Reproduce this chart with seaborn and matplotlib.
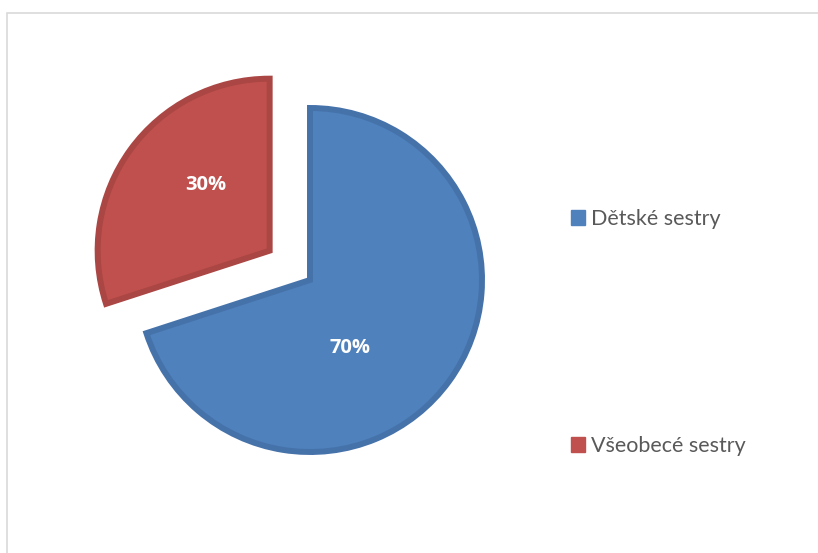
import matplotlib
matplotlib.use("Agg")
import matplotlib.pyplot as plt
from matplotlib.patches import Patch, Rectangle
import seaborn as sns

# Share of respondents by nursing specialisation
categories = ["Dětské sestry", "Všeobecé sestry"]
shares = [70, 30]
pct_labels = ["70%", "30%"]

fill_colors = ["#4F81BD", "#C0504D"]
edge_colors = ["#4672AA", "#AA4643"]

sns.set_theme(style="white")
plt.rcParams["font.family"] = ["Lato", "DejaVu Sans"]

W, H, DPI = 818, 553, 100
fig = plt.figure(figsize=(W / DPI, H / DPI), dpi=DPI)
fig.patch.set_facecolor("white")

# light frame around the chart area
fig.patches.append(Rectangle((7 / W, -0.05), 1.1, 1 - 13 / H + 0.05,
                             transform=fig.transFigure, fill=False,
                             edgecolor="#D9D9D9", linewidth=1.2))

# axes laid out so one data unit = R pixels, pie centre at (cx, cy) from top-left
R = 172.0
cx, cy = 310.0, 280.0
ax_w = 620.0
ax = fig.add_axes([0, 0, ax_w / W, 1])

wedges, _ = ax.pie(
    shares,
    colors=fill_colors,
    startangle=90,
    counterclock=False,
    explode=[0, 0.29],
    radius=1.0,
    wedgeprops=dict(linewidth=4.3, joinstyle="miter"),
)
for w, ec in zip(wedges, edge_colors):
    w.set_edgecolor(ec)

ax.set_aspect("auto")
ax.set_xlim(-cx / R, (ax_w - cx) / R)
ax.set_ylim(-(H - cy) / R, cy / R)
ax.axis("off")

# percentage labels inside slices
label_pos = [(0.233, -0.395), (-0.605, 0.552)]
for (x, y), txt in zip(label_pos, pct_labels):
    ax.text(x, y, txt, ha="center", va="center", color="white",
            fontsize=14.5, fontweight="bold", family=["Open Sans", "DejaVu Sans"])

handles = [Patch(facecolor=c, edgecolor=c) for c in fill_colors]
fig.legend(handles, categories, loc="upper left",
           bbox_to_anchor=(571 / W, 1 - 209 / H),
           frameon=False, fontsize=15.5, labelcolor="#595959",
           handlelength=0.66, handleheight=0.66, handletextpad=0.25,
           labelspacing=9.62, borderpad=0, borderaxespad=0)

fig.savefig("out.png", dpi=DPI)
